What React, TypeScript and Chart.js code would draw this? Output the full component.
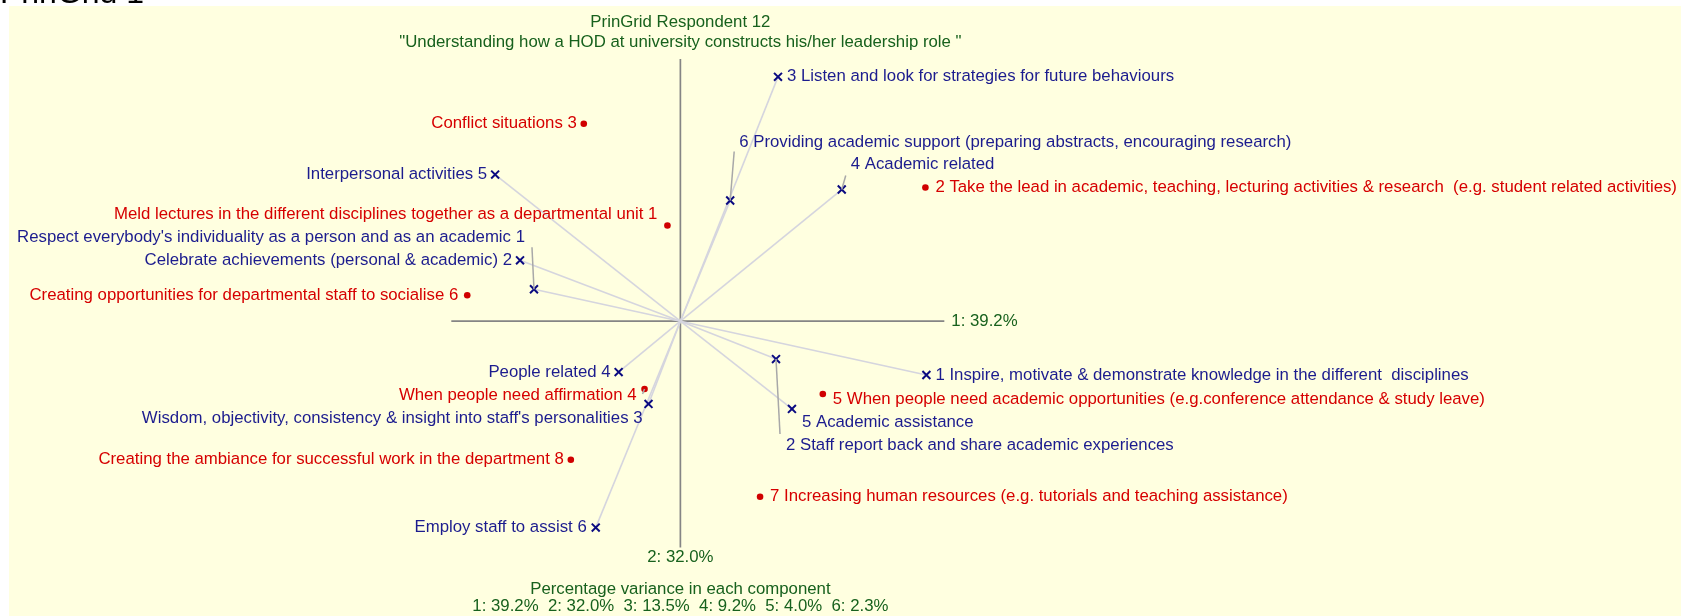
import React, { useEffect, useRef } from "react";
import { Chart, registerables } from "chart.js";

Chart.register(...registerables);

// ---------- data (component scores) ----------
const constructNames = [
  "Respect everybody's individuality as a person and as an academic 1",
  "1 Inspire, motivate & demonstrate knowledge in the different  disciplines",
  "Celebrate achievements (personal & academic) 2",
  "2 Staff report back and share academic experiences",
  "Wisdom, objectivity, consistency & insight into staff's personalities 3",
  "3 Listen and look for strategies for future behaviours",
  "People related 4",
  "4 Academic related",
  "Interpersonal activities 5",
  "5 Academic assistance",
  "Employ staff to assist 6",
  "6 Providing academic support (preparing abstracts, encouraging research)",
];
const constructX = [-0.735, 1.235, -0.805, 0.48, -0.16, 0.49, -0.31, 0.81, -0.93, 0.56, -0.425, 0.25];
const constructY = [0.16, -0.27, 0.305, -0.19, -0.415, 1.225, -0.255, 0.66, 0.735, -0.44, -1.035, 0.605];

const elementNames = [
  "Meld lectures in the different disciplines together as a departmental unit 1",
  "2 Take the lead in academic, teaching, lecturing activities & research  (e.g. student related activities)",
  "Conflict situations 3",
  "When people need affirmation 4",
  "5 When people need academic opportunities (e.g.conference attendance & study leave)",
  "Creating opportunities for departmental staff to socialise 6",
  "7 Increasing human resources (e.g. tutorials and teaching assistance)",
  "Creating the ambiance for successful work in the department 8",
];
const elementX = [-0.065, 1.23, -0.485, -0.18, 0.715, -1.07, 0.4, -0.55];
const elementY = [0.48, 0.67, 0.99, -0.34, -0.365, 0.13, -0.88, -0.695];

const axis1Extent = [-1.15, 1.325];
const axis2Extent = [1.315, -1.135];
const componentNumbers = [1, 2, 3, 4, 5, 6];
const componentVariance = [39.2, 32.0, 13.5, 9.2, 4.0, 2.3];

const titleLines = [
  "PrinGrid Respondent 12",
  "\"Understanding how a HOD at university constructs his/her leadership role \"",
];
const footerTitle = "Percentage variance in each component";
const pageHeading = "PrinGrid 1";

// ---------- label layout (pixel offsets from each mark) ----------
type Lay = { dx: number; dy: number; align: CanvasTextAlign; leader?: [number, number] };
const constructLayout: Lay[] = [
  { dx: -9, dy: -52, align: "right", leader: [-2, -42] },
  { dx: 9, dy: 0, align: "left" },
  { dx: -8, dy: 0, align: "right" },
  { dx: 10, dy: 86, align: "left", leader: [4, 75] },
  { dx: -6, dy: 14, align: "right" },
  { dx: 9, dy: 0, align: "left" },
  { dx: -8, dy: 0, align: "right" },
  { dx: 9, dy: -25, align: "left", leader: [4, -14] },
  { dx: -8, dy: 0, align: "right" },
  { dx: 10, dy: 13, align: "left" },
  { dx: -9, dy: 0, align: "right" },
  { dx: 9, dy: -58, align: "left", leader: [4, -49] },
];
const elementLayout: Lay[] = [
  { dx: -10, dy: -11, align: "right" },
  { dx: 10, dy: 0, align: "left" },
  { dx: -7, dy: 0, align: "right" },
  { dx: -8, dy: 6, align: "right", leader: [-2, 5] },
  { dx: 10, dy: 5, align: "left" },
  { dx: -9, dy: 0, align: "right" },
  { dx: 10, dy: 0, align: "left" },
  { dx: -7, dy: 0, align: "right" },
];

const FONT = "'Liberation Sans', Arial, sans-serif";
const FONT_SIZE = 16.8;
const NAVY = "#1c1c8e";
const MARK_NAVY = "#0a0a80";
const RED = "#d60000";
const GREEN = "#17611d";
const BG = "#ffffe0";

const biplotPlugin = {
  id: "biplotDecor",
  beforeDraw(chart: any) {
    const { ctx, width, height } = chart;
    ctx.save();
    ctx.fillStyle = "#ffffff";
    ctx.fillRect(0, 0, width, height);
    ctx.fillStyle = BG;
    ctx.fillRect(9, 6, width - 9, height - 6);
    ctx.fillStyle = "#000000";
    ctx.font = `32px ${FONT}`;
    ctx.textAlign = "left";
    ctx.textBaseline = "alphabetic";
    ctx.fillText(pageHeading, 0, 3);
    ctx.restore();
  },
  afterDatasetsDraw(chart: any) {
    const { ctx } = chart;
    const xs = chart.scales.x;
    const ys = chart.scales.y;
    const ox = xs.getPixelForValue(0);
    ctx.save();
    ctx.font = `${FONT_SIZE}px ${FONT}`;
    ctx.textBaseline = "middle";
    chart.data.datasets.forEach((ds: any, di: number) => {
      if (!ds.pointLabels) return;
      const meta = chart.getDatasetMeta(di);
      meta.data.forEach((pt: any, i: number) => {
        const lay: Lay = ds.pointLayout[i];
        if (lay.leader) {
          ctx.strokeStyle = "#a8a8a8";
          ctx.lineWidth = 1.5;
          ctx.beginPath();
          ctx.moveTo(pt.x, pt.y);
          ctx.lineTo(pt.x + lay.leader[0], pt.y + lay.leader[1]);
          ctx.stroke();
        }
        ctx.fillStyle = ds.labelColor;
        ctx.textAlign = lay.align;
        ctx.fillText(ds.pointLabels[i], pt.x + lay.dx, pt.y + lay.dy);
      });
    });
    // axis labels
    ctx.fillStyle = GREEN;
    ctx.textAlign = "left";
    ctx.fillText(
      `${componentNumbers[0]}: ${componentVariance[0].toFixed(1)}%`,
      xs.getPixelForValue(axis1Extent[1]) + 7,
      ys.getPixelForValue(0)
    );
    ctx.textAlign = "center";
    ctx.fillText(
      `${componentNumbers[1]}: ${componentVariance[1].toFixed(1)}%`,
      ox,
      ys.getPixelForValue(axis2Extent[1]) + 10
    );
    // titles
    ctx.fillText(titleLines[0], ox, 22);
    ctx.fillText(titleLines[1], ox, 42);
    ctx.fillText(footerTitle, ox, 589);
    ctx.fillText(
      componentNumbers.map((n, i) => `${n}: ${componentVariance[i].toFixed(1)}%`).join("  "),
      ox,
      606
    );
    ctx.restore();
  },
};

export default function App() {
  const ref = useRef<HTMLCanvasElement | null>(null);
  useEffect(() => {
    if (!ref.current) return;
    const constructPts = constructX.map((x, i) => ({ x, y: constructY[i] }));
    const elementPts = elementX.map((x, i) => ({ x, y: elementY[i] }));
    const rays = constructPts.map((p) => ({
      type: "scatter" as const,
      data: [{ x: 0, y: 0 }, p],
      showLine: true,
      borderColor: "#d5d5de",
      borderWidth: 1.6,
      pointRadius: 0,
      order: 3,
      clip: false,
    }));
    const chart = new Chart(ref.current, {
      type: "scatter",
      data: {
        datasets: [
          {
            data: constructPts,
            pointStyle: "crossRot",
            pointRadius: 5.6,
            borderColor: MARK_NAVY,
            backgroundColor: MARK_NAVY,
            borderWidth: 2,
            order: 0,
            clip: false,
            pointLabels: constructNames,
            pointLayout: constructLayout,
            labelColor: NAVY,
          } as any,
          {
            data: elementPts,
            pointStyle: "circle",
            pointRadius: 3.3,
            backgroundColor: "#d00000",
            borderWidth: 0,
            order: 0,
            clip: false,
            pointLabels: elementNames,
            pointLayout: elementLayout,
            labelColor: RED,
          } as any,
          ...rays,
          {
            data: [{ x: axis1Extent[0], y: 0 }, { x: axis1Extent[1], y: 0 }],
            showLine: true,
            borderColor: "#858585",
            borderWidth: 1.7,
            pointRadius: 0,
            order: 5,
          },
          {
            data: [{ x: 0, y: axis2Extent[0] }, { x: 0, y: axis2Extent[1] }],
            showLine: true,
            borderColor: "#858585",
            borderWidth: 1.7,
            pointRadius: 0,
            order: 5,
          },
        ],
      },
      options: {
        responsive: false,
        animation: false,
        events: [],
        layout: { padding: { left: 30, right: 1, top: 20, bottom: 6 } },
        plugins: { legend: { display: false }, tooltip: { enabled: false }, title: { display: false } },
        scales: {
          x: { type: "linear", min: -3.265, max: 4.985, display: false },
          y: { type: "linear", min: -1.44, max: 1.51, display: false },
        },
      },
      plugins: [biplotPlugin],
    });
    return () => chart.destroy();
  }, []);
  return (
    <canvas
      ref={ref}
      width={1681}
      height={616}
      style={{ position: "fixed", left: 0, top: 0, width: 1681, height: 616, display: "block" }}
    />
  );
}
